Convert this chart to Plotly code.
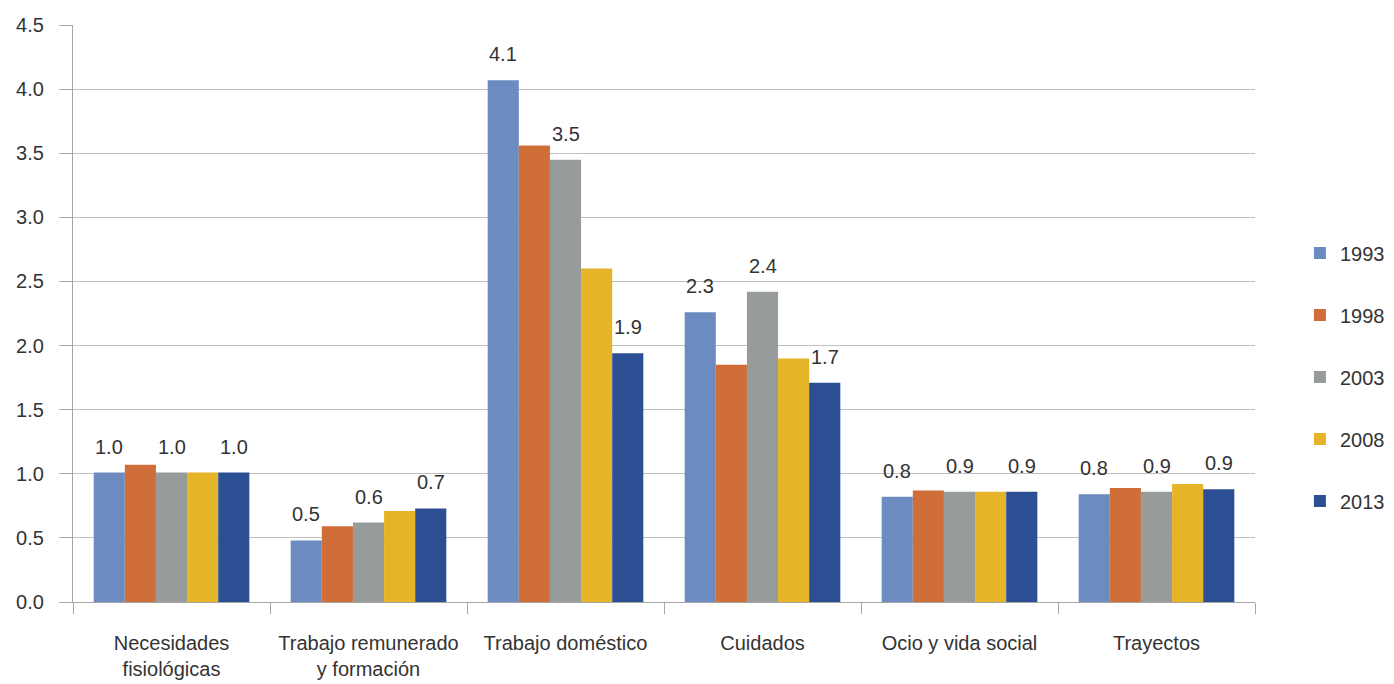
import plotly.graph_objects as go

categories = ["Necesidades<br>fisiológicas", "Trabajo remunerado<br>y formación", "Trabajo doméstico",
              "Cuidados", "Ocio y vida social", "Trayectos"]
years = ["1993", "1998", "2003", "2008", "2013"]
v1993 = [1.01, 0.48, 4.07, 2.26, 0.82, 0.84]
v1998 = [1.07, 0.59, 3.56, 1.85, 0.87, 0.89]
v2003 = [1.01, 0.62, 3.45, 2.42, 0.86, 0.86]
v2008 = [1.01, 0.71, 2.60, 1.90, 0.86, 0.92]
v2013 = [1.01, 0.73, 1.94, 1.71, 0.86, 0.88]
labelled_years = ["1993", "2003", "2013"]
yticks = [0.0, 0.5, 1.0, 1.5, 2.0, 2.5, 3.0, 3.5, 4.0, 4.5]

series = [v1993, v1998, v2003, v2008, v2013]
colors = ["#6B8BC1", "#D06E3A", "#979B9A", "#E6B428", "#2C4F94"]

FONT = "Liberation Sans, Arial, Helvetica, sans-serif"
TXT = "#333333"

# page body adds an 8px margin on top/left
W, H = 1386, 676
ML, MR, MT, MB = 65, 139, 17, 82
BARGAP = 0.21

fig = go.Figure()
for yr, vals, col in zip(years, series, colors):
    fig.add_trace(go.Bar(name=yr, x=categories, y=vals, marker=dict(color=col, line=dict(width=0)),
                         legendgroup=yr))

# data labels as annotations above selected series
plot_w = W - ML - MR
cat_w = plot_w / len(categories)
bar_w = cat_w * (1 - BARGAP) / len(years)
ann = []
for yr, vals in zip(years, series):
    if yr not in labelled_years:
        continue
    i = years.index(yr)
    shift = (i - (len(years) - 1) / 2) * bar_w
    for c, v in zip(categories, vals):
        ann.append(dict(x=c, y=v, text=f"{v:.1f}", showarrow=False, xref="x", yref="y",
                        xshift=shift, yshift=13, yanchor="bottom",
                        font=dict(family=FONT, size=20, color=TXT)))

fig.update_layout(
    width=W, height=H,
    margin=dict(l=ML, r=MR, t=MT, b=MB, autoexpand=False),
    barmode="group", bargap=BARGAP, bargroupgap=0,
    plot_bgcolor="white", paper_bgcolor="white",
    font=dict(family=FONT, size=20, color=TXT),
    annotations=ann,
    legend=dict(x=1.038, xanchor="left", y=0.39, yanchor="middle",
                font=dict(family=FONT, size=20, color=TXT),
                tracegroupgap=33, itemwidth=30),
    xaxis=dict(tickson="boundaries", ticks="outside", ticklen=11, tickcolor="#A6A6A6",
               showline=True, linecolor="#A6A6A6", linewidth=1.3, tickangle=0, automargin=False,
               tickfont=dict(family=FONT, size=20, color=TXT), showgrid=False,
               ticklabelstandoff=23),
    yaxis=dict(range=[0, 4.5], tickvals=yticks, ticktext=[f"{t:.1f}" for t in yticks],
               ticks="outside", ticklen=13, tickcolor="#A6A6A6", automargin=False,
               showline=True, linecolor="#A6A6A6", linewidth=1.3,
               showgrid=True, gridcolor="#BFBFBF", gridwidth=1.3, zeroline=False,
               tickfont=dict(family=FONT, size=20, color=TXT), ticklabelstandoff=11),
)

fig.write_html("out.html")
